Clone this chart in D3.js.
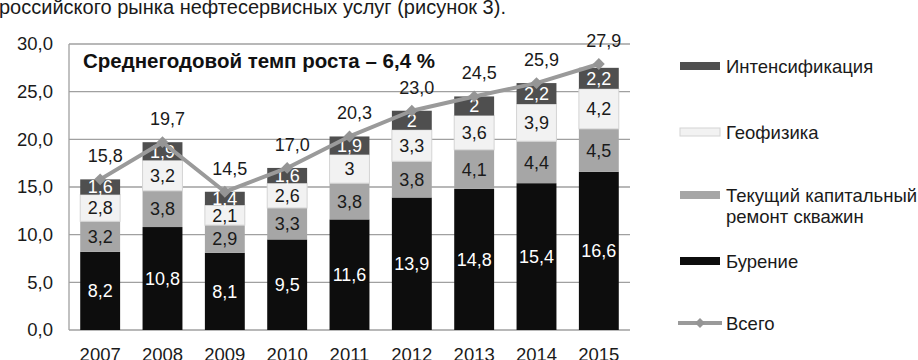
<!DOCTYPE html>
<html><head><meta charset="utf-8">
<script src="https://cdn.jsdelivr.net/npm/d3@7/dist/d3.min.js"></script>
<style>
html,body{margin:0;padding:0;background:#fff;}
svg{display:block;font-family:"Liberation Sans",Arial,sans-serif;}
</style></head>
<body><svg id="c" width="918" height="360"></svg>
<script>
const years = ["2007","2008","2009","2010","2011","2012","2013","2014","2015"];
const drilling = [8.2,10.8,8.1,9.5,11.6,13.9,14.8,15.4,16.6];
const workover = [3.2,3.8,2.9,3.3,3.8,3.8,4.1,4.4,4.5];
const geophysics = [2.8,3.2,2.1,2.6,3,3.3,3.6,3.9,4.2];
const stimulation = [1.6,1.9,1.4,1.6,1.9,2,2,2.2,2.2];
const totals = [15.8,19.7,14.5,17.0,20.3,23.0,24.5,25.9,27.9];
const yTicks = [0,5,10,15,20,25,30];
const seriesNames = ["Бурение","Текущий капитальный ремонт скважин","Геофизика","Интенсификация"];
const totalName = "Всего";
const headerText = "российского рынка нефтесервисных услуг (рисунок 3).";
const noteText = "Среднегодовой темп роста – 6,4 %";

const svg = d3.select("#c");
const L = 69, R = 630, T = 44, B = 330;
const x = d3.scaleBand().domain(years).range([L, R]).paddingInner(0.36).paddingOuter(0.18);
const y = d3.scaleLinear().domain([0, 30]).range([B, T]);
const fs = 18;

const colors = ["#0d0d0d","#a6a6a6","#f2f2f2","#4f4f4f"];
const textColors = ["#fff","#1a1a1a","#1a1a1a","#fff"];
const strokes = ["none","none","#d4d4d4","none"];
const comma = v => String(v).replace(".", ",");

// header text
svg.append("text").attr("x", -1).attr("y", 14).attr("font-size", 20).attr("fill", "#1a1a1a").text(headerText);

// gridlines
svg.append("g").selectAll("line").data(yTicks).join("line")
  .attr("x1", L).attr("x2", R).attr("y1", d => y(d)).attr("y2", d => y(d))
  .attr("stroke", "#a0a0a0").attr("stroke-width", 1.3);
svg.append("line").attr("x1", L).attr("x2", L).attr("y1", T).attr("y2", B)
  .attr("stroke", "#a0a0a0").attr("stroke-width", 1.3);

// y axis
const yAxis = d3.axisLeft(y).tickValues(yTicks).tickSize(0).tickPadding(16)
  .tickFormat(d => d3.format(".1f")(d).replace(".", ","));
const gy = svg.append("g").attr("transform", `translate(${L},0)`).call(yAxis);
gy.select(".domain").remove();
gy.selectAll("text").attr("font-size", 18.5).attr("fill", "#1a1a1a").attr("font-family", "Liberation Sans, Arial, sans-serif");

// x axis
const xAxis = d3.axisBottom(x).tickSize(0).tickPadding(18);
const gx = svg.append("g").attr("transform", `translate(0,${B})`).call(xAxis);
gx.select(".domain").remove();
gx.selectAll("text").attr("font-size", 18.5).attr("fill", "#1a1a1a").attr("font-family", "Liberation Sans, Arial, sans-serif");

// stacked bars
const table = years.map((yr, i) => ({year: yr, s0: drilling[i], s1: workover[i], s2: geophysics[i], s3: stimulation[i]}));
const stack = d3.stack().keys(["s0","s1","s2","s3"])(table);
stack.forEach((layer, k) => {
  const g = svg.append("g");
  g.selectAll("rect").data(layer).join("rect")
    .attr("x", d => x(d.data.year)).attr("width", x.bandwidth())
    .attr("y", d => y(d[1])).attr("height", d => y(d[0]) - y(d[1]))
    .attr("fill", colors[k]).attr("stroke", strokes[k]).attr("stroke-width", 1);
  g.selectAll("text").data(layer).join("text")
    .attr("x", d => x(d.data.year) + x.bandwidth() / 2)
    .attr("y", d => (y(d[0]) + y(d[1])) / 2).attr("dy", "0.36em")
    .attr("text-anchor", "middle").attr("font-size", fs).attr("fill", textColors[k])
    .text(d => comma(+(d[1] - d[0]).toFixed(1)));
});

// total line
const cx = d => x(d) + x.bandwidth() / 2;
const line = d3.line().x((d, i) => cx(years[i])).y(d => y(d));
svg.append("path").datum(totals).attr("d", line).attr("fill", "none")
  .attr("stroke", "#9a9a9a").attr("stroke-width", 4).attr("stroke-linejoin", "round");
svg.append("g").selectAll("path").data(totals).join("path")
  .attr("d", d3.symbol().type(d3.symbolSquare).size(70))
  .attr("transform", (d, i) => `translate(${cx(years[i])},${y(d)}) rotate(45)`)
  .attr("fill", "#959595");
svg.append("g").selectAll("text").data(totals).join("text")
  .attr("x", (d, i) => cx(years[i]) + 5).attr("y", d => y(d) - 17)
  .attr("text-anchor", "middle").attr("font-size", fs).attr("fill", "#1a1a1a")
  .text(d => d3.format(".1f")(d).replace(".", ","));

// annotation
svg.append("text").attr("x", 83).attr("y", 68).attr("font-size", 20.5).attr("font-weight", "bold")
  .attr("fill", "#111").text(noteText);

// legend
const lg = svg.append("g");
const legendItems = [
  {k: 3, y: 66, lines: [seriesNames[3]]},
  {k: 2, y: 132, lines: [seriesNames[2]]},
  {k: 1, y: 195, lines: ["Текущий капитальный", "ремонт скважин"]},
  {k: 0, y: 261, lines: [seriesNames[0]]}
];
legendItems.forEach(it => {
  lg.append("rect").attr("x", 680).attr("y", it.y - 4).attr("width", 40).attr("height", 8)
    .attr("fill", colors[it.k]).attr("stroke", strokes[it.k]);
  it.lines.forEach((t, j) => {
    lg.append("text").attr("x", 726).attr("y", it.y + 7 + j * 21).attr("font-size", 18.5)
      .attr("fill", "#1a1a1a").text(t);
  });
});
lg.append("line").attr("x1", 678).attr("x2", 722).attr("y1", 323).attr("y2", 323)
  .attr("stroke", "#9a9a9a").attr("stroke-width", 4);
lg.append("path").attr("d", d3.symbol().type(d3.symbolSquare).size(50)())
  .attr("transform", "translate(700,323) rotate(45)").attr("fill", "#959595");
lg.append("text").attr("x", 726).attr("y", 330).attr("font-size", 18.5).attr("fill", "#1a1a1a").text(totalName);
</script></body></html>
